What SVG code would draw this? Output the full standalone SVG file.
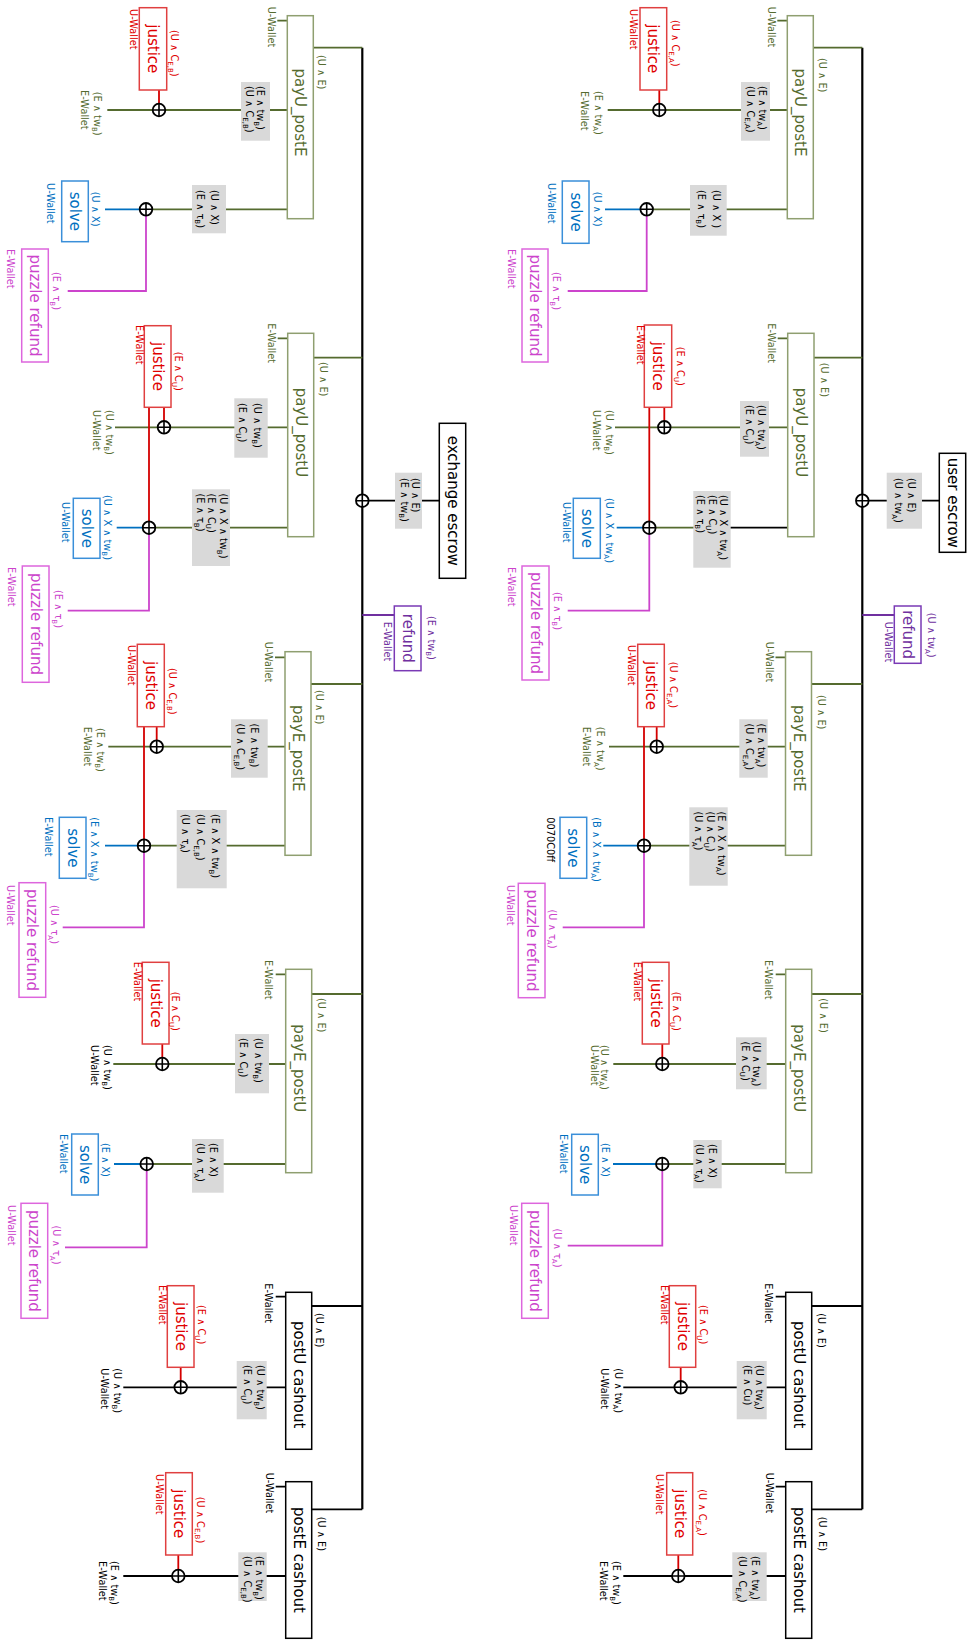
<svg xmlns="http://www.w3.org/2000/svg" width="971" height="1640" viewBox="0 0 971 1640">
<style>
.t{font-family:"DejaVu Sans","Liberation Sans",sans-serif;dominant-baseline:central}
.s{font-size:9.8px}
.n{font-size:15px;text-anchor:middle}
.m{text-anchor:middle}
.sb{font-size:7px;baseline-shift:sub}
.ol{fill:#556B2F}.rd{fill:#e00000}.bl{fill:#0070C0}.mg{fill:#cc44cc}.pu{fill:#7030A0}.bk{fill:#000}
.l{fill:none;stroke-width:1.8}
.lo{stroke:#556B2F}.lk{stroke:#000}.lr{stroke:#d40000}.lb{stroke:#0070C0}.lm{stroke:#cc44cc}.lp{stroke:#7030A0}
.bus{fill:none;stroke:#000;stroke-width:2.2}
.gb{fill:#d9d9d9}
.bo{fill:#fff;stroke:#8f9f70;stroke-width:1.5}
.bkx{fill:#fff;stroke:#000;stroke-width:1.5}
.bj{fill:#fff;stroke:#e04040;stroke-width:1.5}
.bs{fill:#fff;stroke:#3a8fd9;stroke-width:1.5}
.bp{fill:#fff;stroke:#dd66dd;stroke-width:1.5}
.br{fill:#fff;stroke:#7a3ab5;stroke-width:1.5}
</style>
<defs>
<g id="xo"><circle r="6.3" fill="#fff" stroke="#000" stroke-width="1.8"/><path d="M-6.3 0H6.3M0 -6.3V6.3" stroke="#000" stroke-width="1.6"/></g>
</defs>
<rect width="971" height="1640" fill="#fff"/>

<g id="connectors">
<path class="bus" d="M862.3 47.7V1509.3"/>
<path class="l lk" d="M862.3 500.7H939.3"/>
<path class="l lp" d="M862.3 615H894.3"/>
<path class="l lo" d="M777.3 20.7H787.3M813.3 47.7H862.3M787.3 110H607.7M787.3 209.3H646.7"/>
<path class="l lo" d="M777.7 338.3H787.7M814 357.7H862.3M787.7 427.3H615M693.3 527.7H649.3"/>
<path class="l lk" d="M787.7 527.7H693.3"/>
<path class="l lo" d="M775.5 657.3H785.5M811.5 684H862.3M785.5 746.7H609M785.5 845.7H644"/>
<path class="l lo" d="M775.7 974.3H785.7M811.7 994H862.3M785.7 1064H613.3M785.7 1164H662.3"/>
<path class="l lk" d="M775.7 1296.7H785.7M811.7 1306H862.3M785.7 1387.3H623.3"/>
<path class="l lk" d="M775.7 1486.7H785.7M811.7 1509.3H862.3M785.7 1576H623.3"/>
<path class="l lr" d="M659.3 90V110M664.3 407.3V427.3M649.3 407.3V527.7M656.7 726.7V746.7M644 726.7V845.7M662.3 1044V1064M680.7 1367.3V1387.3M678.3 1555V1576"/>
<path class="l lb" d="M605 209.3H646.7M616.7 527.7H649.3M603.3 845.7H644M613 1164H662.3"/>
<path class="l lm" d="M646.7 209.3V291H567.7M649.3 527.7V610.7H567.7M644 845.7V927.3H562.7M662.3 1164V1245.7H567.7"/>
<path class="bus" d="M362.3 47.7V1509.3"/>
<path class="l lk" d="M362.3 500.7H439.3"/>
<path class="l lp" d="M362.3 615H394.3"/>
<path class="l lo" d="M277.3 20.7H287.3M313.3 47.7H362.3M287.3 110H107.3M287.3 209.3H146"/>
<path class="l lo" d="M277.7 338.3H287.7M313.7 357.7H362.3M287.7 427.3H115M287.7 527.7H149"/>
<path class="l lo" d="M275 657.3H285M311 684H362.3M285 746.7H108.3M285 845.7H144"/>
<path class="l lo" d="M275.7 974.3H285.7M311.7 994H362.3M285.7 1064H113.3M285.7 1164H146.7"/>
<path class="l lk" d="M275.7 1296.7H285.7M311.7 1306H362.3M285.7 1387.3H123.3"/>
<path class="l lk" d="M275.7 1486.7H285.7M311.7 1509.3H362.3M285.7 1576H123.3"/>
<path class="l lr" d="M159 90V110M164 407.3V427.3M149 407.3V527.7M156.7 726.7V746.7M144 726.7V845.7M162.3 1044V1064M180.7 1367.3V1387.3M178.3 1555V1576"/>
<path class="l lb" d="M105 209.3H146M116.7 527.7H149M105 845.7H144M114 1164H146.7"/>
<path class="l lm" d="M146 209.3V291H67.7M149 527.7V610.7H67.7M144 845.7V927.3H62.7M146.7 1164V1247.3H65"/>
</g>

<g id="edge-labels">
<rect class="gb" x="886.7" y="472.7" width="35.3" height="56"/>
<text class="t s bk" transform="translate(911.3,478) rotate(90)">(U ∧ E)</text>
<text class="t s bk" transform="translate(898.3,478) rotate(90)">(U ∧ tw<tspan class="sb">A</tspan>)</text>
<rect class="gb" x="741" y="82" width="29" height="58.7"/>
<text class="t s bk" transform="translate(762.5,86) rotate(90)">(E ∧ tw<tspan class="sb">A</tspan>)</text>
<text class="t s bk" transform="translate(750.5,86) rotate(90)">(U ∧ C<tspan class="sb">E,A</tspan>)</text>
<rect class="gb" x="690" y="185" width="36.7" height="50.7"/>
<text class="t s bk" transform="translate(716,190) rotate(90)">(U ∧ X )</text>
<text class="t s bk" transform="translate(701.7,190) rotate(90)">(E ∧ τ<tspan class="sb">B</tspan>)</text>
<rect class="gb" x="740" y="401" width="29" height="55.7"/>
<text class="t s bk" transform="translate(761.3,405) rotate(90)">(U ∧ tw<tspan class="sb">A</tspan>)</text>
<text class="t s bk" transform="translate(749.2,405) rotate(90)">(E ∧ C<tspan class="sb">U</tspan>)</text>
<rect class="gb" x="693.3" y="491" width="37.4" height="76.7"/>
<text class="t s bk" transform="translate(723.3,495) rotate(90)">(U ∧ X ∧ tw<tspan class="sb">A</tspan>)</text>
<text class="t s bk" transform="translate(712,495) rotate(90)">(E ∧ C<tspan class="sb">U</tspan>)</text>
<text class="t s bk" transform="translate(700.8,495) rotate(90)">(E ∧ τ<tspan class="sb">B</tspan>)</text>
<rect class="gb" x="739.3" y="719.3" width="28.4" height="58.4"/>
<text class="t s bk" transform="translate(761.2,723.5) rotate(90)">(E ∧ tw<tspan class="sb">A</tspan>)</text>
<text class="t s bk" transform="translate(749.2,723.5) rotate(90)">(U ∧ C<tspan class="sb">E,A</tspan>)</text>
<rect class="gb" x="689.3" y="807.3" width="38.4" height="78.4"/>
<text class="t s bk" transform="translate(721.7,811.5) rotate(90)">(E ∧ X ∧ tw<tspan class="sb">A</tspan>)</text>
<text class="t s bk" transform="translate(710,811.5) rotate(90)">(U ∧ C<tspan class="sb">U</tspan>)</text>
<text class="t s bk" transform="translate(698.2,811.5) rotate(90)">(U ∧ τ<tspan class="sb">A</tspan>)</text>
<rect class="gb" x="736" y="1037.3" width="30.7" height="52"/>
<text class="t s bk" transform="translate(756.7,1041.5) rotate(90)">(U ∧ tw<tspan class="sb">A</tspan>)</text>
<text class="t s bk" transform="translate(745.5,1041.5) rotate(90)">(E ∧ C<tspan class="sb">U</tspan>)</text>
<rect class="gb" x="693.3" y="1140" width="28.4" height="48.3"/>
<text class="t s bk" transform="translate(712.5,1144) rotate(90)">(E ∧ X)</text>
<text class="t s bk" transform="translate(699.5,1144) rotate(90)">(U ∧ τ<tspan class="sb">A</tspan>)</text>
<rect class="gb" x="736.7" y="1361" width="30" height="58.3"/>
<text class="t s bk" transform="translate(759.5,1365) rotate(90)">(U ∧ tw<tspan class="sb">A</tspan>)</text>
<text class="t s bk" transform="translate(747.5,1365) rotate(90)">(E ∧ Cu)</text>
<rect class="gb" x="732.3" y="1552.3" width="34.4" height="48.7"/>
<text class="t s bk" transform="translate(755,1556) rotate(90)">(E ∧ tw<tspan class="sb">A</tspan>)</text>
<text class="t s bk" transform="translate(742,1556) rotate(90)">(U ∧ C<tspan class="sb">E,A</tspan>)</text>
<rect class="gb" x="395" y="472.7" width="27" height="56"/>
<text class="t s bk" transform="translate(415.8,478) rotate(90)">(U ∧ E)</text>
<text class="t s bk" transform="translate(404.7,478) rotate(90)">(E ∧ tw<tspan class="sb">B</tspan>)</text>
<rect class="gb" x="241" y="82" width="29" height="58.7"/>
<text class="t s bk" transform="translate(260,86) rotate(90)">(E ∧ tw<tspan class="sb">B</tspan>)</text>
<text class="t s bk" transform="translate(249.2,86) rotate(90)">(U ∧ C<tspan class="sb">E,B</tspan>)</text>
<rect class="gb" x="192" y="185" width="34" height="48.3"/>
<text class="t s bk" transform="translate(214.2,190) rotate(90)">(U ∧ X)</text>
<text class="t s bk" transform="translate(200.8,190) rotate(90)">(E ∧ τ<tspan class="sb">B</tspan>)</text>
<rect class="gb" x="234.3" y="398.3" width="33.4" height="59.4"/>
<text class="t s bk" transform="translate(257.5,403) rotate(90)">(U ∧ tw<tspan class="sb">B</tspan>)</text>
<text class="t s bk" transform="translate(242,403) rotate(90)">(E ∧ C<tspan class="sb">U</tspan>)</text>
<rect class="gb" x="192" y="489.3" width="38" height="76.7"/>
<text class="t s bk" transform="translate(223.3,493.5) rotate(90)">(U ∧ X ∧ tw<tspan class="sb">B</tspan>)</text>
<text class="t s bk" transform="translate(211.7,493.5) rotate(90)">(E ∧ C<tspan class="sb">U</tspan>)</text>
<text class="t s bk" transform="translate(200,493.5) rotate(90)">(E ∧ τ<tspan class="sb">B</tspan>)</text>
<rect class="gb" x="231" y="719.3" width="36.7" height="58.4"/>
<text class="t s bk" transform="translate(254.7,723.5) rotate(90)">(E ∧ tw<tspan class="sb">B</tspan>)</text>
<text class="t s bk" transform="translate(240,723.5) rotate(90)">(U ∧ C<tspan class="sb">E,B</tspan>)</text>
<rect class="gb" x="176.7" y="810" width="50" height="78.3"/>
<text class="t s bk" transform="translate(215,814) rotate(90)">(E ∧ X ∧ tw<tspan class="sb">B</tspan>)</text>
<text class="t s bk" transform="translate(200,814) rotate(90)">(U ∧ C<tspan class="sb">E,B</tspan>)</text>
<text class="t s bk" transform="translate(185.8,814) rotate(90)">(U ∧ τ<tspan class="sb">A</tspan>)</text>
<rect class="gb" x="235" y="1034" width="34" height="59.3"/>
<text class="t s bk" transform="translate(258.7,1038) rotate(90)">(U ∧ tw<tspan class="sb">B</tspan>)</text>
<text class="t s bk" transform="translate(243.8,1038) rotate(90)">(E ∧ C<tspan class="sb">U</tspan>)</text>
<rect class="gb" x="192" y="1139" width="31.7" height="53.7"/>
<text class="t s bk" transform="translate(213.7,1143) rotate(90)">(E ∧ X)</text>
<text class="t s bk" transform="translate(200,1143) rotate(90)">(U ∧ τ<tspan class="sb">A</tspan>)</text>
<rect class="gb" x="236.7" y="1361" width="30" height="58.3"/>
<text class="t s bk" transform="translate(260,1365) rotate(90)">(U ∧ tw<tspan class="sb">B</tspan>)</text>
<text class="t s bk" transform="translate(247.2,1365) rotate(90)">(E ∧ C<tspan class="sb">U</tspan>)</text>
<rect class="gb" x="238.3" y="1552.3" width="28.4" height="48.7"/>
<text class="t s bk" transform="translate(259.2,1556) rotate(90)">(E ∧ tw<tspan class="sb">B</tspan>)</text>
<text class="t s bk" transform="translate(247,1556) rotate(90)">(U ∧ C<tspan class="sb">E,B</tspan>)</text>
</g>

<g id="junctions">
<use href="#xo" x="862.3" y="500.7"/>
<use href="#xo" x="659.3" y="110"/><use href="#xo" x="646.7" y="209.3"/>
<use href="#xo" x="664.3" y="427.3"/><use href="#xo" x="649.3" y="527.7"/>
<use href="#xo" x="656.7" y="746.7"/><use href="#xo" x="644" y="845.7"/>
<use href="#xo" x="662.3" y="1064"/><use href="#xo" x="662.3" y="1164"/>
<use href="#xo" x="680.7" y="1387.3"/><use href="#xo" x="678.3" y="1576"/>
<use href="#xo" x="362.3" y="500.7"/>
<use href="#xo" x="159" y="110"/><use href="#xo" x="146" y="209.3"/>
<use href="#xo" x="164" y="427.3"/><use href="#xo" x="149" y="527.7"/>
<use href="#xo" x="156.7" y="746.7"/><use href="#xo" x="144" y="845.7"/>
<use href="#xo" x="162.3" y="1064"/><use href="#xo" x="146.7" y="1164"/>
<use href="#xo" x="180.7" y="1387.3"/><use href="#xo" x="178.3" y="1576"/>
</g>

<g id="user-escrow">
<rect class="bkx" x="939.3" y="453.3" width="26.4" height="99"/>
<text class="t n bk" transform="translate(952.5,502.8) rotate(90)">user escrow</text>
</g>
<g id="u-refund">
<rect class="br" x="894.3" y="606" width="26.7" height="57.3"/>
<text class="t n pu" transform="translate(907.7,634.7) rotate(90)">refund</text>
<text class="t s pu" transform="translate(888,621.7) rotate(90)">U-Wallet</text>
<text class="t s pu" transform="translate(931,612.7) rotate(90)">(U ∧ tw<tspan class="sb">A</tspan>)</text>
</g>

<g id="u-payU_postE">
<rect class="bo" x="787.3" y="15.7" width="26" height="203"/>
<text class="t n ol" transform="translate(800.3,112.5) rotate(90)">payU_postE</text>
<text class="t s ol" transform="translate(771,6.7) rotate(90)">U-Wallet</text>
<text class="t s ol" transform="translate(822.5,58) rotate(90)">(U ∧ E)</text>
<text class="t s ol" transform="translate(598.5,91) rotate(90)">(E ∧ tw<tspan class="sb">A</tspan>)</text>
<text class="t s ol" transform="translate(584,91) rotate(90)">E-Wallet</text>
</g>
<g id="u-payU_postE-justice">
<rect class="bj" x="640" y="7.7" width="26.7" height="82.3"/>
<text class="t n rd" transform="translate(653.3,48.8) rotate(90)">justice</text>
<text class="t s rd" transform="translate(675,20) rotate(90)">(U ∧ C<tspan class="sb">E,A</tspan>)</text>
<text class="t s rd" transform="translate(633.5,9) rotate(90)">U-Wallet</text>
</g>
<g id="u-payU_postE-solve">
<rect class="bs" x="562.3" y="181" width="26.7" height="62.3"/>
<text class="t n bl" transform="translate(575.7,212) rotate(90)">solve</text>
<text class="t s bl" transform="translate(597,191.7) rotate(90)">(U ∧ X)</text>
<text class="t s bl" transform="translate(551,183) rotate(90)">U-Wallet</text>
</g>
<g id="u-payU_postE-puzzle">
<rect class="bp" x="522" y="249" width="26" height="113"/>
<text class="t n mg" transform="translate(535,305.5) rotate(90)">puzzle refund</text>
<text class="t s mg m" transform="translate(556,291) rotate(90)">(E ∧ τ<tspan class="sb">B</tspan>)</text>
<text class="t s mg" transform="translate(511,249) rotate(90)">E-Wallet</text>
</g>

<g id="u-payU_postU">
<rect class="bo" x="787.7" y="333.3" width="26.3" height="203.4"/>
<text class="t n ol" transform="translate(800.8,432.5) rotate(90)">payU_postU</text>
<text class="t s ol" transform="translate(771,323.3) rotate(90)">E-Wallet</text>
<text class="t s ol" transform="translate(824,362.7) rotate(90)">(U ∧ E)</text>
<text class="t s ol" transform="translate(609.5,410) rotate(90)">(U ∧ tw<tspan class="sb">B</tspan>)</text>
<text class="t s ol" transform="translate(596.3,410) rotate(90)">U-Wallet</text>
</g>
<g id="u-payU_postU-justice">
<rect class="bj" x="644.3" y="325" width="27.4" height="82.3"/>
<text class="t n rd" transform="translate(658,366.2) rotate(90)">justice</text>
<text class="t s rd" transform="translate(680,346.7) rotate(90)">(E ∧ C<tspan class="sb">U</tspan>)</text>
<text class="t s rd" transform="translate(640,325) rotate(90)">E-Wallet</text>
</g>
<g id="u-payU_postU-solve">
<rect class="bs" x="573.3" y="498.3" width="27" height="60"/>
<text class="t n bl" transform="translate(586.8,528.3) rotate(90)">solve</text>
<text class="t s bl" transform="translate(609.5,498) rotate(90)">(U ∧ X ∧ tw<tspan class="sb">A</tspan>)</text>
<text class="t s bl" transform="translate(566,502) rotate(90)">U-Wallet</text>
</g>
<g id="u-payU_postU-puzzle">
<rect class="bp" x="522" y="566" width="27" height="114"/>
<text class="t n mg" transform="translate(535.5,623) rotate(90)">puzzle refund</text>
<text class="t s mg m" transform="translate(557.5,611) rotate(90)">(E ∧ τ<tspan class="sb">B</tspan>)</text>
<text class="t s mg" transform="translate(511,567) rotate(90)">E-Wallet</text>
</g>

<g id="u-payE_postE">
<rect class="bo" x="785.5" y="651.7" width="26" height="203.6"/>
<text class="t n ol" transform="translate(798.5,748.3) rotate(90)">payE_postE</text>
<text class="t s ol" transform="translate(769,641.7) rotate(90)">U-Wallet</text>
<text class="t s ol" transform="translate(821.7,695) rotate(90)">(U ∧ E)</text>
<text class="t s ol" transform="translate(600,726.7) rotate(90)">(E ∧ tw<tspan class="sb">A</tspan>)</text>
<text class="t s ol" transform="translate(586,726.7) rotate(90)">E-Wallet</text>
</g>
<g id="u-payE_postE-justice">
<rect class="bj" x="637.7" y="644.3" width="26.6" height="82.4"/>
<text class="t n rd" transform="translate(651,685.5) rotate(90)">justice</text>
<text class="t s rd" transform="translate(673,661.7) rotate(90)">(U ∧ C<tspan class="sb">E,A</tspan>)</text>
<text class="t s rd" transform="translate(631.3,645) rotate(90)">U-Wallet</text>
</g>
<g id="u-payE_postE-solve">
<rect class="bs" x="560" y="817.3" width="26.7" height="61"/>
<text class="t n bl" transform="translate(573.3,847.8) rotate(90)">solve</text>
<text class="t s bl" transform="translate(596.7,817.3) rotate(90)">(B ∧ X ∧ tw<tspan class="sb">A</tspan>)</text>
<text class="t s bk" transform="translate(550,817.3) rotate(90)">0070C0ff</text>
</g>
<g id="u-payE_postE-puzzle">
<rect class="bp" x="518.3" y="883.3" width="26.7" height="114.4"/>
<text class="t n mg" transform="translate(531.7,940.5) rotate(90)">puzzle refund</text>
<text class="t s mg m" transform="translate(552.5,929) rotate(90)">(U ∧ τ<tspan class="sb">A</tspan>)</text>
<text class="t s mg" transform="translate(510.8,885) rotate(90)">U-Wallet</text>
</g>

<g id="u-payE_postU">
<rect class="bo" x="785.7" y="969.3" width="26" height="203.4"/>
<text class="t n ol" transform="translate(798.7,1068.3) rotate(90)">payE_postU</text>
<text class="t s ol" transform="translate(768.3,960) rotate(90)">E-Wallet</text>
<text class="t s ol" transform="translate(823,998.3) rotate(90)">(U ∧ E)</text>
<text class="t s ol" transform="translate(604.5,1045) rotate(90)">(U ∧ tw<tspan class="sb">A</tspan>)</text>
<text class="t s ol" transform="translate(594.8,1045) rotate(90)">U-Wallet</text>
</g>
<g id="u-payE_postU-justice">
<rect class="bj" x="642.3" y="962.3" width="26.7" height="81.7"/>
<text class="t n rd" transform="translate(655.7,1003.2) rotate(90)">justice</text>
<text class="t s rd" transform="translate(676,991.7) rotate(90)">(E ∧ C<tspan class="sb">U</tspan>)</text>
<text class="t s rd" transform="translate(637.5,961.7) rotate(90)">E-Wallet</text>
</g>
<g id="u-payE_postU-solve">
<rect class="bs" x="571.7" y="1134.3" width="26.6" height="60.7"/>
<text class="t n bl" transform="translate(585,1164.7) rotate(90)">solve</text>
<text class="t s bl" transform="translate(605,1143) rotate(90)">(E ∧ X)</text>
<text class="t s bl" transform="translate(563,1134) rotate(90)">E-Wallet</text>
</g>
<g id="u-payE_postU-puzzle">
<rect class="bp" x="521.7" y="1203.3" width="26.6" height="115"/>
<text class="t n mg" transform="translate(535,1260.8) rotate(90)">puzzle refund</text>
<text class="t s mg m" transform="translate(557.5,1248) rotate(90)">(U ∧ τ<tspan class="sb">A</tspan>)</text>
<text class="t s mg" transform="translate(513.5,1205) rotate(90)">U-Wallet</text>
</g>

<g id="u-postU-cashout">
<rect class="bkx" x="785.7" y="1292.3" width="26" height="157"/>
<text class="t n bk" transform="translate(798.7,1374.7) rotate(90)">postU cashout</text>
<text class="t s bk" transform="translate(768.3,1283.3) rotate(90)">E-Wallet</text>
<text class="t s bk" transform="translate(821.5,1313.3) rotate(90)">(U ∧ E)</text>
<text class="t s bk" transform="translate(618.7,1368.3) rotate(90)">(U ∧ tw<tspan class="sb">A</tspan>)</text>
<text class="t s bk" transform="translate(604.8,1368.3) rotate(90)">U-Wallet</text>
</g>
<g id="u-postU-cashout-justice">
<rect class="bj" x="669.3" y="1285.7" width="26.4" height="81.6"/>
<text class="t n rd" transform="translate(682.5,1326.5) rotate(90)">justice</text>
<text class="t s rd" transform="translate(703,1305) rotate(90)">(E ∧ C<tspan class="sb">U</tspan>)</text>
<text class="t s rd" transform="translate(664.2,1285) rotate(90)">E-Wallet</text>
</g>

<g id="u-postE-cashout">
<rect class="bkx" x="785.7" y="1481.7" width="26" height="156.6"/>
<text class="t n bk" transform="translate(798.7,1560) rotate(90)">postE cashout</text>
<text class="t s bk" transform="translate(769,1472.7) rotate(90)">U-Wallet</text>
<text class="t s bk" transform="translate(822,1516.7) rotate(90)">(U ∧ E)</text>
<text class="t s bk" transform="translate(616,1561) rotate(90)">(E ∧ tw<tspan class="sb">B</tspan>)</text>
<text class="t s bk" transform="translate(603,1561) rotate(90)">E-Wallet</text>
</g>
<g id="u-postE-cashout-justice">
<rect class="bj" x="666.7" y="1472.7" width="26" height="82.3"/>
<text class="t n rd" transform="translate(679.7,1513.8) rotate(90)">justice</text>
<text class="t s rd" transform="translate(702.3,1489.3) rotate(90)">(U ∧ C<tspan class="sb">E,A</tspan>)</text>
<text class="t s rd" transform="translate(659.8,1474) rotate(90)">U-Wallet</text>
</g>

<g id="exchange-escrow">
<rect class="bkx" x="439.3" y="423.3" width="26.4" height="155"/>
<text class="t n bk" transform="translate(452.5,500.8) rotate(90)">exchange escrow</text>
</g>
<g id="e-refund">
<rect class="br" x="394.3" y="606" width="26.7" height="64.7"/>
<text class="t n pu" transform="translate(407.7,638.3) rotate(90)">refund</text>
<text class="t s pu" transform="translate(387.8,621.7) rotate(90)">E-Wallet</text>
<text class="t s pu" transform="translate(431.7,616) rotate(90)">(E ∧ tw<tspan class="sb">B</tspan>)</text>
</g>

<g id="e-payU_postE">
<rect class="bo" x="287.3" y="15.7" width="26" height="203"/>
<text class="t n ol" transform="translate(300.3,112.5) rotate(90)">payU_postE</text>
<text class="t s ol" transform="translate(271,6.7) rotate(90)">U-Wallet</text>
<text class="t s ol" transform="translate(321.7,55) rotate(90)">(U ∧ E)</text>
<text class="t s ol" transform="translate(97.5,91.7) rotate(90)">(E ∧ tw<tspan class="sb">B</tspan>)</text>
<text class="t s ol" transform="translate(84.2,90) rotate(90)">E-Wallet</text>
</g>
<g id="e-payU_postE-justice">
<rect class="bj" x="139.3" y="7.7" width="27.4" height="82.3"/>
<text class="t n rd" transform="translate(153,48.8) rotate(90)">justice</text>
<text class="t s rd" transform="translate(174,30) rotate(90)">(U ∧ C<tspan class="sb">E,B</tspan>)</text>
<text class="t s rd" transform="translate(133.5,9) rotate(90)">U-Wallet</text>
</g>
<g id="e-payU_postE-solve">
<rect class="bs" x="61.7" y="181" width="26.6" height="60.7"/>
<text class="t n bl" transform="translate(75,211.3) rotate(90)">solve</text>
<text class="t s bl" transform="translate(95.8,191.7) rotate(90)">(U ∧ X)</text>
<text class="t s bl" transform="translate(50.8,183) rotate(90)">U-Wallet</text>
</g>
<g id="e-payU_postE-puzzle">
<rect class="bp" x="21.7" y="249" width="26.6" height="113"/>
<text class="t n mg" transform="translate(35,305.5) rotate(90)">puzzle refund</text>
<text class="t s mg m" transform="translate(56,291) rotate(90)">(E ∧ τ<tspan class="sb">B</tspan>)</text>
<text class="t s mg" transform="translate(10.8,249) rotate(90)">E-Wallet</text>
</g>

<g id="e-payU_postU">
<rect class="bo" x="287.7" y="333.3" width="26" height="203.4"/>
<text class="t n ol" transform="translate(300.7,432.5) rotate(90)">payU_postU</text>
<text class="t s ol" transform="translate(271,323.3) rotate(90)">E-Wallet</text>
<text class="t s ol" transform="translate(323.8,362) rotate(90)">(U ∧ E)</text>
<text class="t s ol" transform="translate(109.5,410) rotate(90)">(U ∧ tw<tspan class="sb">B</tspan>)</text>
<text class="t s ol" transform="translate(96.5,410) rotate(90)">U-Wallet</text>
</g>
<g id="e-payU_postU-justice">
<rect class="bj" x="144.3" y="325.7" width="26.7" height="81.6"/>
<text class="t n rd" transform="translate(157.7,366.5) rotate(90)">justice</text>
<text class="t s rd" transform="translate(178,351.7) rotate(90)">(E ∧ C<tspan class="sb">U</tspan>)</text>
<text class="t s rd" transform="translate(139.2,325) rotate(90)">E-Wallet</text>
</g>
<g id="e-payU_postU-solve">
<rect class="bs" x="73.3" y="498.3" width="26.7" height="60"/>
<text class="t n bl" transform="translate(86.7,528.3) rotate(90)">solve</text>
<text class="t s bl" transform="translate(107.8,495) rotate(90)">(U ∧ X ∧ tw<tspan class="sb">B</tspan>)</text>
<text class="t s bl" transform="translate(65.2,502) rotate(90)">U-Wallet</text>
</g>
<g id="e-payU_postU-puzzle">
<rect class="bp" x="22.3" y="566" width="26.7" height="116.3"/>
<text class="t n mg" transform="translate(35.7,624) rotate(90)">puzzle refund</text>
<text class="t s mg m" transform="translate(58.3,609) rotate(90)">(E ∧ τ<tspan class="sb">B</tspan>)</text>
<text class="t s mg" transform="translate(11,567) rotate(90)">E-Wallet</text>
</g>

<g id="e-payE_postE">
<rect class="bo" x="285" y="651.7" width="26" height="203.6"/>
<text class="t n ol" transform="translate(298,748.3) rotate(90)">payE_postE</text>
<text class="t s ol" transform="translate(268.5,641.7) rotate(90)">U-Wallet</text>
<text class="t s ol" transform="translate(319.5,690) rotate(90)">(U ∧ E)</text>
<text class="t s ol" transform="translate(100.5,728) rotate(90)">(E ∧ tw<tspan class="sb">B</tspan>)</text>
<text class="t s ol" transform="translate(87.5,726.7) rotate(90)">E-Wallet</text>
</g>
<g id="e-payE_postE-justice">
<rect class="bj" x="137.3" y="644.3" width="27" height="82.4"/>
<text class="t n rd" transform="translate(150.8,685.5) rotate(90)">justice</text>
<text class="t s rd" transform="translate(172.5,668) rotate(90)">(U ∧ C<tspan class="sb">E,B</tspan>)</text>
<text class="t s rd" transform="translate(131.5,645) rotate(90)">U-Wallet</text>
</g>
<g id="e-payE_postE-solve">
<rect class="bs" x="59.3" y="817.3" width="26.7" height="61"/>
<text class="t n bl" transform="translate(72.7,847.8) rotate(90)">solve</text>
<text class="t s bl" transform="translate(94.3,817.3) rotate(90)">(E ∧ X ∧ tw<tspan class="sb">B</tspan>)</text>
<text class="t s bl" transform="translate(48.5,817) rotate(90)">E-Wallet</text>
</g>
<g id="e-payE_postE-puzzle">
<rect class="bp" x="19" y="882.7" width="26.7" height="114.6"/>
<text class="t n mg" transform="translate(32.3,940) rotate(90)">puzzle refund</text>
<text class="t s mg m" transform="translate(54.3,924.5) rotate(90)">(U ∧ τ<tspan class="sb">A</tspan>)</text>
<text class="t s mg" transform="translate(10.8,885) rotate(90)">U-Wallet</text>
</g>

<g id="e-payE_postU">
<rect class="bo" x="285.7" y="969.3" width="26" height="203.4"/>
<text class="t n ol" transform="translate(298.7,1068.3) rotate(90)">payE_postU</text>
<text class="t s ol" transform="translate(268.5,960) rotate(90)">E-Wallet</text>
<text class="t s ol" transform="translate(321.3,998) rotate(90)">(U ∧ E)</text>
<text class="t s bk" transform="translate(107.5,1045) rotate(90)">(U ∧ tw<tspan class="sb">B</tspan>)</text>
<text class="t s bk" transform="translate(94.8,1045) rotate(90)">U-Wallet</text>
</g>
<g id="e-payE_postU-justice">
<rect class="bj" x="142.3" y="962.3" width="26.7" height="81.7"/>
<text class="t n rd" transform="translate(155.7,1003.2) rotate(90)">justice</text>
<text class="t s rd" transform="translate(175.3,991.7) rotate(90)">(E ∧ C<tspan class="sb">U</tspan>)</text>
<text class="t s rd" transform="translate(137.5,961.7) rotate(90)">E-Wallet</text>
</g>
<g id="e-payE_postU-solve">
<rect class="bs" x="71.7" y="1134" width="26.6" height="61"/>
<text class="t n bl" transform="translate(85,1164.5) rotate(90)">solve</text>
<text class="t s bl" transform="translate(105,1143) rotate(90)">(E ∧ X)</text>
<text class="t s bl" transform="translate(63.5,1134) rotate(90)">E-Wallet</text>
</g>
<g id="e-payE_postU-puzzle">
<rect class="bp" x="21" y="1203.3" width="26.7" height="115"/>
<text class="t n mg" transform="translate(34.3,1260.8) rotate(90)">puzzle refund</text>
<text class="t s mg m" transform="translate(56.2,1245) rotate(90)">(U ∧ τ<tspan class="sb">A</tspan>)</text>
<text class="t s mg" transform="translate(11.5,1205) rotate(90)">U-Wallet</text>
</g>

<g id="e-postU-cashout">
<rect class="bkx" x="285.7" y="1292.3" width="26" height="157"/>
<text class="t n bk" transform="translate(298.7,1374.7) rotate(90)">postU cashout</text>
<text class="t s bk" transform="translate(268.5,1283.3) rotate(90)">E-Wallet</text>
<text class="t s bk" transform="translate(319.5,1313) rotate(90)">(U ∧ E)</text>
<text class="t s bk" transform="translate(117.5,1368.3) rotate(90)">(U ∧ tw<tspan class="sb">B</tspan>)</text>
<text class="t s bk" transform="translate(104.8,1368.3) rotate(90)">U-Wallet</text>
</g>
<g id="e-postU-cashout-justice">
<rect class="bj" x="167.3" y="1285.7" width="26.7" height="81.6"/>
<text class="t n rd" transform="translate(180.7,1326.5) rotate(90)">justice</text>
<text class="t s rd" transform="translate(201.2,1305) rotate(90)">(E ∧ C<tspan class="sb">U</tspan>)</text>
<text class="t s rd" transform="translate(162.5,1285) rotate(90)">E-Wallet</text>
</g>

<g id="e-postE-cashout">
<rect class="bkx" x="285.7" y="1481.7" width="26" height="156.6"/>
<text class="t n bk" transform="translate(298.7,1560) rotate(90)">postE cashout</text>
<text class="t s bk" transform="translate(269,1472.7) rotate(90)">U-Wallet</text>
<text class="t s bk" transform="translate(321.3,1516.7) rotate(90)">(U ∧ E)</text>
<text class="t s bk" transform="translate(114.5,1561) rotate(90)">(E ∧ tw<tspan class="sb">B</tspan>)</text>
<text class="t s bk" transform="translate(102.5,1561) rotate(90)">E-Wallet</text>
</g>
<g id="e-postE-cashout-justice">
<rect class="bj" x="165.7" y="1472.7" width="26.6" height="82.3"/>
<text class="t n rd" transform="translate(179,1513.8) rotate(90)">justice</text>
<text class="t s rd" transform="translate(200.8,1496.7) rotate(90)">(U ∧ C<tspan class="sb">E,B</tspan>)</text>
<text class="t s rd" transform="translate(159.2,1474) rotate(90)">U-Wallet</text>
</g>
</svg>
